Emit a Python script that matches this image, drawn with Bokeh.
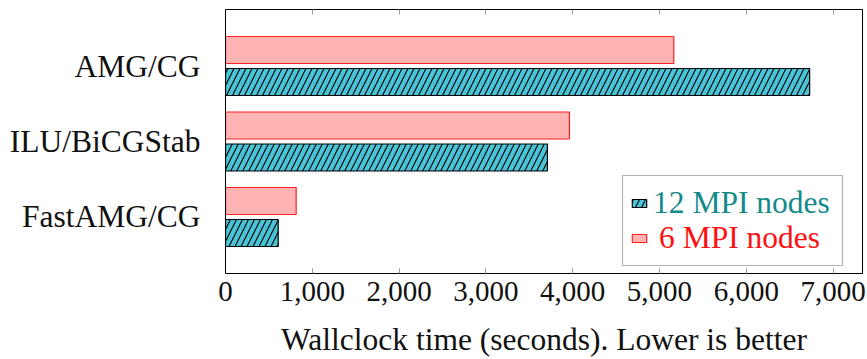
from bokeh.plotting import figure
from bokeh.models import (ColumnDataSource, FactorRange, NumeralTickFormatter,
                          SingleIntervalTicker, LinearAxis, Legend, LegendItem,
                          BoxAnnotation, Range1d, CustomJSTickFormatter)
from bokeh.transform import dodge
from bokeh.embed import file_html
from bokeh.resources import INLINE

# Wallclock times (seconds) per solver configuration
solvers = ["AMG/CG", "ILU/BiCGStab", "FastAMG/CG"]
time_12_nodes = [6730, 3709, 607]
time_6_nodes = [5165, 3963, 814]
series_labels = ["12 MPI nodes", "6 MPI nodes"]
x_label = "Wallclock time (seconds). Lower is better"

FONT = "Liberation Serif, serif"
CYAN = "#4AC3D7"
PINK = "#FFB3B3"
TEAL = "#138A8A"

source = ColumnDataSource(dict(solver=solvers, n12=time_12_nodes, n6=time_6_nodes))

p = figure(width=867, height=359,
           y_range=FactorRange(factors=solvers[::-1], range_padding=0.2485,
                               range_padding_units="absolute"),
           x_range=Range1d(0, 7339),
           output_backend="svg", toolbar_location=None,
           min_border_left=225, min_border_right=5,
           min_border_top=9, min_border_bottom=86)
p.background_fill_color = "white"
p.border_fill_color = "white"
p.outline_line_color = "black"
p.outline_line_width = 1
p.grid.visible = False

bar_h = 0.3576
r12 = p.hbar(y=dodge("solver", -0.212, range=p.y_range), right="n12", left=0,
             height=bar_h, source=source, fill_color=CYAN, line_color="black",
             line_width=1.2, hatch_pattern="/", hatch_color="black",
             hatch_scale=12, hatch_weight=1.1)
r6 = p.hbar(y=dodge("solver", 0.212, range=p.y_range), right="n6", left=0,
            height=bar_h, source=source, fill_color=PINK, line_color="#FF2020",
            line_width=1.2)

# bottom axis
xa = p.xaxis[0]
xa.ticker = SingleIntervalTicker(interval=1000)
xa.formatter = NumeralTickFormatter(format="0,0")
xa.axis_label = x_label
xa.axis_label_text_font = FONT
xa.axis_label_text_font_style = "normal"
xa.axis_label_text_font_size = "31.5px"
xa.axis_label_text_color = "#111111"
xa.axis_label_standoff = 18
xa.major_label_text_font = FONT
xa.major_label_text_font_size = "29px"
xa.major_label_text_color = "#111111"
xa.major_label_standoff = 4
xa.major_tick_in = 5
xa.major_tick_out = 0
xa.major_tick_line_color = "#999999"
xa.minor_tick_line_color = None
xa.axis_line_color = "black"

# top axis: inward ticks only, no labels
top = LinearAxis(ticker=SingleIntervalTicker(interval=1000),
                 formatter=CustomJSTickFormatter(code="return ''"),
                 major_label_standoff=0,
                 major_tick_in=5, major_tick_out=0,
                 major_tick_line_color="#999999", minor_tick_line_color=None,
                 axis_line_color="black")
p.add_layout(top, "above")

# left axis with solver names
ya = p.yaxis[0]
ya.major_label_text_font = FONT
ya.major_label_text_font_size = "31.5px"
ya.major_label_text_color = "#111111"
ya.major_label_standoff = 25
ya.major_tick_in = 0
ya.major_tick_out = 0
ya.axis_line_color = "black"

# legend box with two differently coloured entries
box = BoxAnnotation(left=397, right=617, bottom=8, top=98,
                    left_units="screen", right_units="screen",
                    bottom_units="screen", top_units="screen",
                    fill_color="white", fill_alpha=1.0,
                    line_color="black", line_width=1.2)
p.add_layout(box)

def make_legend(label, renderer, color, loc, standoff):
    lg = Legend(items=[LegendItem(label=label, renderers=[renderer])],
                location=loc, padding=0, margin=0, spacing=0,
                glyph_width=18, glyph_height=10, label_standoff=standoff,
                label_text_font=FONT, label_text_font_size="31.5px",
                label_text_color=color, background_fill_alpha=0,
                border_line_alpha=0)
    p.add_layout(lg, "center")

make_legend(series_labels[0], r12, TEAL, (405, 52), 5)
make_legend(series_labels[1], r6, "#FF1010", (405, 17), 11)

open("out.html", "w").write(file_html(p, INLINE))
